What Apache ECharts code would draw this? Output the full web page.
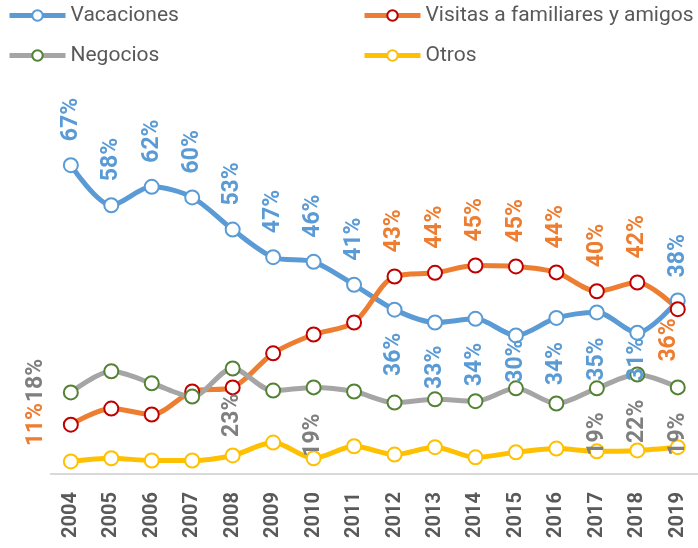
<!DOCTYPE html>
<html>
<head>
    <meta charset="utf-8">
    <script src="https://cdn.jsdelivr.net/npm/echarts@6/dist/echarts.min.js"></script>
    <style>
        html, body { margin: 0; padding: 0; background: #fff; }
    </style>
</head>
<body>
    <div id="main" style="width: 698px;height:548px;"></div>
    <script type="text/javascript">
        // data (percent)
        var years = ['2004', '2005', '2006', '2007', '2008', '2009', '2010', '2011',
                     '2012', '2013', '2014', '2015', '2016', '2017', '2018', '2019'];
        var vacaciones = [67, 58.3, 62.3, 60, 53, 47, 46, 41, 35.6, 32.8, 33.6, 30, 33.8, 35, 30.6, 37.6];
        var visitas = [10.6, 14.1, 12.8, 17.8, 18.7, 26.1, 30.2, 32.8, 42.8, 43.6, 45.2, 45, 43.7, 39.6, 41.5, 35.7];
        var negocios = [17.6, 22.2, 19.6, 16.7, 22.8, 18, 18.7, 17.8, 15.4, 16.1, 15.7, 18.5, 15.2, 18.5, 21.5, 18.7];
        var otros = [2.6, 3.3, 2.8, 2.8, 3.9, 6.7, 3.3, 5.9, 4.1, 5.7, 3.5, 4.6, 5.4, 4.8, 5, 5.7];

        var FONT = 'Roboto';

        function lbl(color, pos, dist, offset, align) {
            var o = {
                show: true,
                rotate: 90,
                color: color,
                fontFamily: FONT,
                fontWeight: 'bold',
                fontSize: 23,
                position: pos,
                distance: dist,
                formatter: function (p) { return Math.round(p.value) + '%'; }
            };
            if (pos == 'top') { o.align = 'left'; o.verticalAlign = 'middle'; }
            else if (pos == 'bottom') { o.align = 'right'; o.verticalAlign = 'middle'; }
            else { o.align = 'center'; o.verticalAlign = 'middle'; }
            if (offset) o.offset = offset;
            return o;
        }

        // which points carry a label, and where
        var labelPlan = {
            vacaciones: { 0: ['top', 16], 1: ['top', 16], 2: ['top', 16], 3: ['top', 16], 4: ['top', 16],
                          5: ['top', 16], 6: ['top', 16], 7: ['top', 16], 15: ['top', 15],
                          8: ['bottom', 15], 9: ['bottom', 15], 10: ['bottom', 16], 11: ['bottom', -4],
                          12: ['bottom', 16], 13: ['bottom', 17], 14: ['bottom', -3] },
            visitas: { 0: ['left', 27], 8: ['top', 16], 9: ['top', 16], 10: ['top', 16], 11: ['top', 16],
                       12: ['top', 16], 13: ['top', 16], 14: ['top', 16], 15: ['bottom', 1, [0, -9]] },
            negocios: { 0: ['left', 27, [12, 0]], 4: ['bottom', 17], 6: ['bottom', 18], 13: ['bottom', 16],
                        14: ['bottom', 17], 15: ['bottom', 17] },
            otros: {}
        };

        function buildData(values, plan, color) {
            var out = [];
            for (var i = 0; i < values.length; i++) {
                var item = { value: values[i] };
                if (plan[i]) item.label = lbl(color, plan[i][0], plan[i][1], plan[i][2]);
                out.push(item);
            }
            return out;
        }

        function makeSeries(name, values, plan, lineColor, markColor, labelColor) {
            return {
                name: name,
                type: 'line',
                smooth: 0.3,
                symbol: 'circle',
                symbolSize: 14,
                lineStyle: { color: lineColor, width: 5 },
                itemStyle: { color: '#fff', borderColor: markColor, borderWidth: 2 },
                label: { show: false },
                emphasis: { disabled: true },
                data: buildData(values, plan, labelColor)
            };
        }

        var myChart = echarts.init(document.getElementById('main'));

        var legendText = { color: '#595959', fontSize: 21, fontFamily: FONT };

        function legendCol(left, names) {
            return {
                orient: 'vertical',
                left: left,
                top: 0,
                padding: 5,
                itemWidth: 56,
                itemHeight: 13,
                itemGap: 19,
                lineStyle: { width: 5 },
                textStyle: legendText,
                data: names
            };
        }

        var option = {
            animation: false,
            legend: [
                legendCol(2, ['Vacaciones', 'Negocios']),
                legendCol(357, ['Visitas a familiares y amigos', 'Otros'])
            ],
            grid: {
                left: 50.6,
                top: 110,
                width: 652.8,
                bottom: 70
            },
            xAxis: {
                type: 'category',
                data: years,
                axisLine: { lineStyle: { color: '#D9D9D9', width: 2 } },
                axisTick: { show: false },
                axisLabel: {
                    interval: 0,
                    rotate: 90,
                    margin: 14,
                    color: '#595959',
                    fontFamily: FONT,
                    fontWeight: 'bold',
                    fontSize: 20
                }
            },
            yAxis: {
                type: 'value',
                min: -1,
                max: 79,
                show: false,
                splitLine: { show: false }
            },
            series: [
                makeSeries('Vacaciones', vacaciones, labelPlan.vacaciones, '#5B9BD5', '#5B9BD5', '#5B9BD5'),
                makeSeries('Visitas a familiares y amigos', visitas, labelPlan.visitas, '#ED7D31', '#C00000', '#ED7D31'),
                makeSeries('Negocios', negocios, labelPlan.negocios, '#A5A5A5', '#548235', '#7F7F7F'),
                makeSeries('Otros', otros, labelPlan.otros, '#FFC000', '#FFC000', '#FFC000')
            ]
        };
        myChart.setOption(option);
    </script>
</body>
</html>
